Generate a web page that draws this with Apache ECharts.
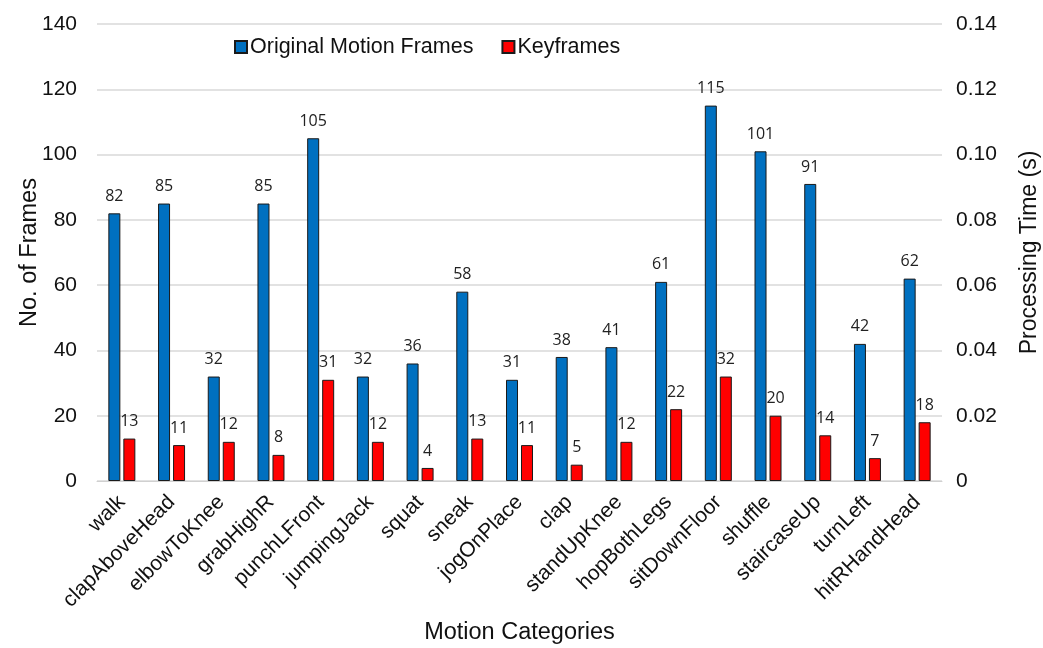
<!DOCTYPE html>
<html>
<head>
<meta charset="utf-8">
<script src="https://cdn.jsdelivr.net/npm/echarts@6/dist/echarts.min.js"></script>
<style>
  html, body { margin: 0; padding: 0; background: #fff; }
  #chart { width: 1043px; height: 648px; }
</style>
</head>
<body>
<div id="chart"></div>
<script>
var CATEGORIES = ['walk', 'clapAboveHead', 'elbowToKnee', 'grabHighR', 'punchLFront', 'jumpingJack',
  'squat', 'sneak', 'jogOnPlace', 'clap', 'standUpKnee', 'hopBothLegs', 'sitDownFloor', 'shuffle',
  'staircaseUp', 'turnLeft', 'hitRHandHead'];
var ORIGINAL_FRAMES = [82, 85, 32, 85, 105, 32, 36, 58, 31, 38, 41, 61, 115, 101, 91, 42, 62];
var KEYFRAMES = [13, 11, 12, 8, 31, 12, 4, 13, 11, 5, 12, 22, 32, 20, 14, 7, 18];

var chart = echarts.init(document.getElementById('chart'), null, { renderer: 'canvas' });

var labelStyle = {
  show: true, position: 'top', distance: 9,
  fontFamily: 'Open Sans', fontSize: 16, color: '#222'
};

chart.setOption({
  animation: false,
  textStyle: { fontFamily: 'Liberation Sans' },
  legend: {
    top: 31, left: 229, itemWidth: 12, itemHeight: 12, itemGap: 28,
    icon: 'rect',
    textStyle: { fontSize: 21.5, color: '#111', padding: [0, 0, 0, -2] },
    data: ['Original Motion Frames', 'Keyframes']
  },
  grid: { left: 97, right: 101, top: 24, bottom: 167, containLabel: false, outerBoundsMode: 'none' },
  xAxis: {
    type: 'category', data: CATEGORIES,
    name: 'Motion Categories', nameLocation: 'middle', nameGap: 140, nameMoveOverlap: false,
    nameTextStyle: { fontSize: 23.5, color: '#111' },
    axisLine: { lineStyle: { color: '#d0d0d0', width: 1 } },
    axisTick: { show: false },
    axisLabel: { rotate: 45, fontSize: 21, color: '#111', margin: 18, interval: 0 }
  },
  yAxis: [{
    type: 'value', min: 0, max: 140, interval: 20,
    name: 'No. of Frames', nameLocation: 'middle', nameGap: 55, nameMoveOverlap: false,
    nameTextStyle: { fontSize: 23.5, color: '#111' },
    axisLine: { show: false }, axisTick: { show: false },
    axisLabel: { fontSize: 21, color: '#111', margin: 20 },
    splitLine: { lineStyle: { color: '#d9d9d9', width: 1.5 } }
  }, {
    type: 'value', min: 0, max: 0.14, interval: 0.02,
    name: 'Processing Time (s)', nameLocation: 'middle', nameGap: 76, nameRotate: 90, nameMoveOverlap: false,
    nameTextStyle: { fontSize: 23, color: '#111' },
    axisLine: { show: false }, axisTick: { show: false },
    splitLine: { show: false },
    axisLabel: {
      fontSize: 21, color: '#111', margin: 14,
      formatter: function (v) { return v === 0 ? '0' : v.toFixed(2); }
    }
  }],
  series: [{
    name: 'Original Motion Frames', type: 'bar', data: ORIGINAL_FRAMES,
    barWidth: 12, barGap: '25%',
    itemStyle: { color: '#0070C0', borderColor: '#1a1a1a', borderWidth: 1 },
    label: labelStyle
  }, {
    name: 'Keyframes', type: 'bar', data: KEYFRAMES,
    barWidth: 12,
    itemStyle: { color: '#FF0000', borderColor: '#1a1a1a', borderWidth: 1 },
    label: labelStyle
  }]
});
</script>
</body>
</html>
